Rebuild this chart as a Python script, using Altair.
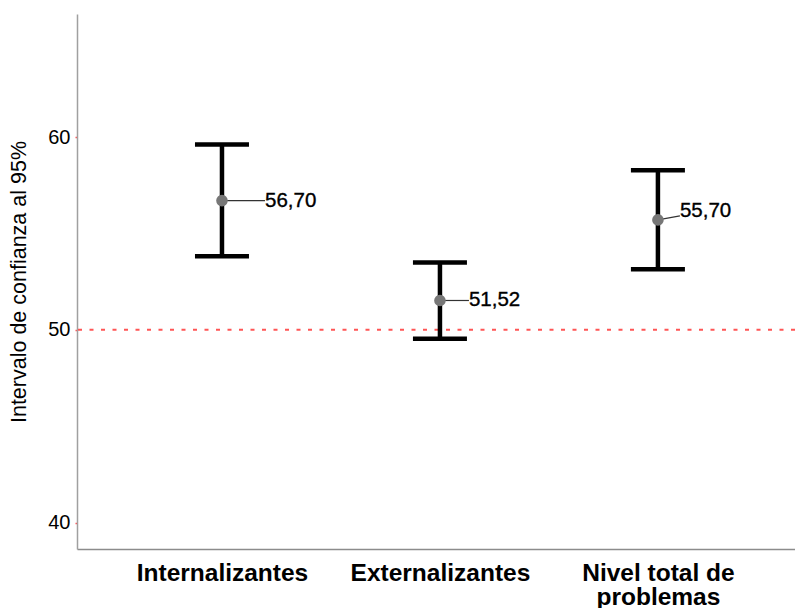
import altair as alt
import pandas as pd

categories = ["Internalizantes", "Externalizantes", "Nivel total de problemas"]
means = [56.70, 51.52, 55.70]
lowers = [53.81, 49.53, 53.14]
uppers = [59.61, 53.49, 58.27]
reference_value = [50]
y_ticks = [40, 50, 60]

df = pd.DataFrame({"cat": categories, "mean": means, "lower": lowers, "upper": uppers})
ref_df = pd.DataFrame({"ref": reference_value})

FONT = "Liberation Sans"

x_scale = alt.Scale(type="point", padding=0.647, align=0.514, domain=categories)
y_scale = alt.Scale(domain=[38.63, 66.38], nice=False, zero=False)

x_axis = alt.Axis(
    title=None, ticks=False, tickSize=0, labelAngle=0, labelPadding=12,
    labelFont=FONT, labelFontSize=24.5, labelFontWeight="bold", labelColor="black",
    labelLineHeight=24, labelLimit=300,
    labelExpr="datum.label == 'Nivel total de problemas' ? ['Nivel total de', 'problemas'] : datum.label",
    domainColor="#8c8c8c", domainWidth=1.5,
)
y_axis = alt.Axis(
    title="Intervalo de confianza al 95%", values=y_ticks, grid=False,
    tickColor="#ff5555", tickSize=2, tickWidth=1.5, labelPadding=5,
    labelFont=FONT, labelFontSize=20, labelColor="black",
    titleFont=FONT, titleFontSize=21.5, titleFontWeight="normal", titleColor="black",
    titlePadding=17, domainColor="#a0a0a0", domainWidth=1.5,
)

X = alt.X("cat:N", scale=x_scale, axis=x_axis, sort=categories)

base = alt.Chart(df)

ref = alt.Chart(ref_df).mark_rule(color="#ff5555", strokeDash=[4, 7.5], strokeWidth=2).encode(
    y=alt.Y("ref:Q", scale=y_scale, axis=y_axis)
)

stem = base.mark_rule(color="black", strokeWidth=4.5).encode(
    x=X, y=alt.Y("lower:Q", scale=y_scale, axis=y_axis), y2="upper:Q"
)
cap_lo = base.mark_tick(color="black", size=54, thickness=4.5, opacity=1).encode(
    x=X, y=alt.Y("lower:Q", scale=y_scale, axis=y_axis)
)
cap_hi = base.mark_tick(color="black", size=54, thickness=4.5, opacity=1).encode(
    x=X, y=alt.Y("upper:Q", scale=y_scale, axis=y_axis)
)

# label placement per category (dx of text, dy of text, dy of connector end)
placements = {
    "Internalizantes": (43, 0, 0),
    "Externalizantes": (29, 0, 0),
    "Nivel total de problemas": (22, -9, -4),
}

conn_layers = []
text_layers = []
for cat, (dx, dy, cdy) in placements.items():
    sub = base.transform_filter(alt.datum.cat == cat).transform_calculate(
        lbl="replace(format(datum.mean, '.2f'), '.', ',')"
    )
    conn_layers.append(
        sub.mark_rule(color="#333333", strokeWidth=1.2, x2Offset=dx, y2Offset=cdy).encode(
            x=X, x2="cat:N", y=alt.Y("mean:Q", scale=y_scale, axis=y_axis), y2="mean:Q"
        )
    )
    text_layers.append(
        sub.mark_text(align="left", baseline="middle", dx=dx, dy=dy, font=FONT,
                      fontSize=20.5, color="black", stroke="black", strokeWidth=0.35).encode(
            x=X, y=alt.Y("mean:Q", scale=y_scale, axis=y_axis), text="lbl:N"
        )
    )

points = base.mark_circle(size=135, color="#777777", opacity=1).encode(
    x=X, y=alt.Y("mean:Q", scale=y_scale, axis=y_axis)
)

chart = alt.layer(ref, stem, cap_lo, cap_hi, *conn_layers, points, *text_layers).properties(
    width=718, height=535,
    background="white",
    autosize=alt.AutoSizeParams(type="none"),
    padding={"left": 77, "top": 14, "right": 0, "bottom": 59},
).configure_view(strokeWidth=0, stroke=None)

chart.save("out.html", embed_options={"renderer": "svg", "actions": False})
